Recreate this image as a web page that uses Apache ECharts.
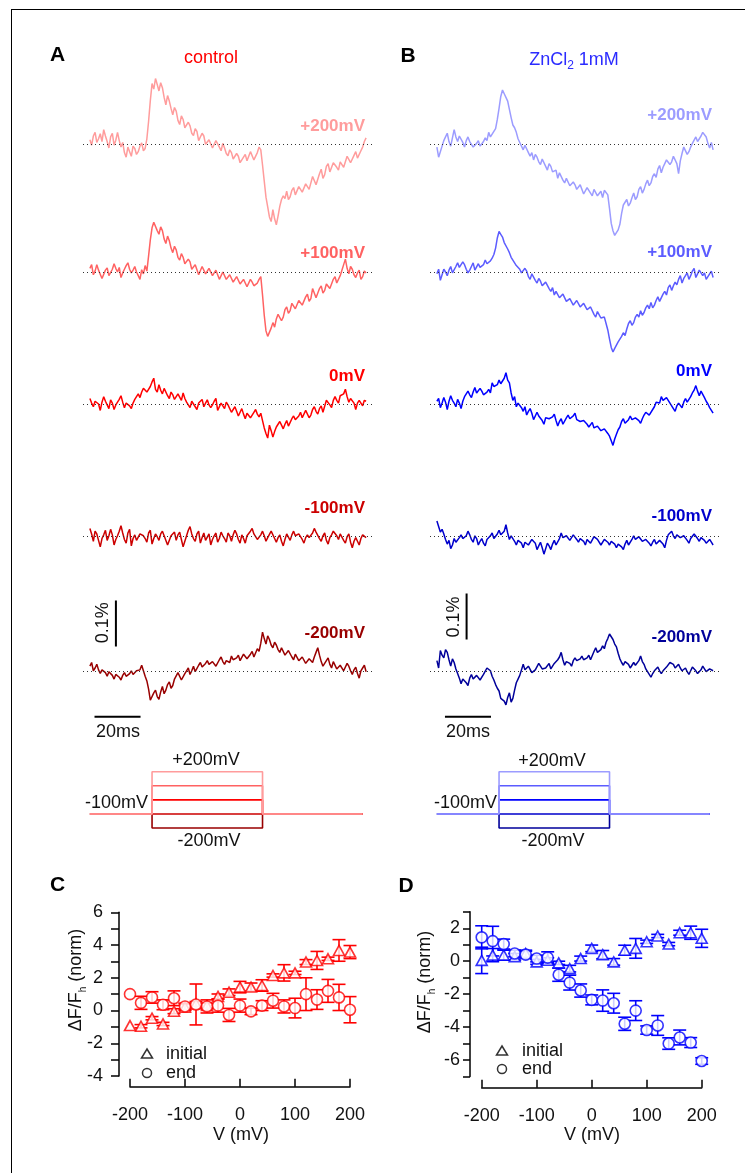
<!DOCTYPE html>
<html><head><meta charset="utf-8">
<script src="https://cdn.jsdelivr.net/npm/echarts@6.0.0/dist/echarts.min.js"></script>
<style>html,body{margin:0;padding:0;background:#fff}#c{width:745px;height:1173px}</style>
</head><body><div id="c"></div>
<script>
// ---------- DATA ----------
// Fluorescence traces, units of 0.01 % dF/F, sampled every SAMPLE_MS ms
const SAMPLE_MS = 0.75;
const TRACE_LABELS = ['+200mV', '+100mV', '0mV', '-100mV', '-200mV'];

const A_P200 = [1.0,-0.2,1.8,2.6,0.4,1.2,2.3,0.6,3.2,1.8,0.6,-0.8,1.6,2.4,-0.2,0.9,2.6,0.8,-0.6,0.4,-1.8,-2.8,-0.6,-1.6,-2.6,-0.4,-0.9,-2.2,-1.6,-0.4,0.3,-1.4,-0.9,1.2,5.0,9.5,13.2,12.0,14.3,13.0,11.6,13.4,12.3,10.2,8.6,10.6,9.4,7.8,6.4,8.0,7.2,5.2,4.3,6.2,5.4,3.6,3.2,4.8,4.0,2.4,1.9,3.4,2.8,0.8,0.6,2.4,1.8,0.0,-0.2,1.0,1.4,-0.8,-0.4,0.8,0.5,-0.6,-1.4,0.2,-0.8,-2.0,-2.5,-1.2,-1.8,-3.2,-3.6,-2.0,-2.6,-4.0,-3.8,-2.8,-2.2,-3.6,-3.2,-1.6,-2.0,-3.4,-3.0,-1.8,-0.6,-1.2,-4.5,-8.0,-11.5,-13.6,-15.8,-16.8,-14.2,-16.2,-17.5,-15.6,-13.5,-12.0,-11.2,-11.8,-10.2,-12.0,-11.4,-10.0,-9.4,-11.0,-10.6,-9.2,-8.8,-10.4,-10.0,-8.6,-8.2,-9.8,-9.4,-7.0,-7.4,-8.8,-8.6,-6.4,-5.4,-7.4,-6.6,-4.8,-4.2,-6.0,-5.8,-4.0,-3.6,-5.0,-5.6,-3.8,-3.4,-5.0,-4.6,-2.6,-2.4,-4.0,-3.8,-2.4,-1.6,-3.0,-2.8,-1.4,-0.6,0.6,1.4];
const A_P100 = [0.8,1.6,-0.6,0.2,1.6,0.4,0.2,-1.4,-1.0,0.4,0.9,-0.8,-0.4,0.6,1.8,0.8,0.0,1.0,-1.2,-0.2,0.6,1.4,2.0,0.6,-0.2,0.4,1.2,0.0,-0.8,-1.6,0.5,-0.4,1.4,0.2,3.5,7.0,9.6,10.8,11.0,9.0,8.2,9.8,9.0,7.2,6.2,7.8,6.8,5.2,4.2,5.6,4.8,3.2,2.6,4.0,3.2,1.8,1.4,2.8,2.2,0.6,0.4,1.6,1.3,-0.6,-0.3,1.2,0.9,-0.4,-0.6,0.8,0.4,-0.8,-1.0,0.4,0.2,-1.6,-1.4,0.0,-0.4,-1.6,-2.0,-0.6,-0.9,-2.2,-2.4,-1.0,-1.4,-2.6,-3.0,-1.6,-1.8,-3.2,-2.8,-1.6,-2.2,-3.0,-3.4,-2.4,-1.6,-1.0,-5.0,-9.4,-12.8,-14.0,-13.6,-12.2,-11.0,-12.0,-10.2,-9.2,-9.0,-10.6,-9.8,-8.2,-7.6,-9.0,-8.4,-6.8,-6.4,-8.0,-7.6,-6.2,-5.8,-7.2,-6.8,-5.4,-4.8,-6.4,-5.8,-3.6,-4.0,-5.6,-5.2,-3.6,-3.0,-4.6,-4.0,-2.6,-2.2,-3.6,-3.2,-1.6,-1.0,-2.4,-2.0,-0.8,0.4,1.6,2.8,0.8,-0.4,1.2,0.6,-0.6,-1.2,-0.2,0.4,-1.6,-1.0,0.2,-0.2];
const A_0 = [1.2,0.2,-0.6,0.6,0.8,0.0,-1.4,0.4,1.6,0.6,-0.2,-1.0,0.9,0.2,-1.2,-0.2,0.4,1.0,1.8,0.4,-0.8,0.2,0.6,-0.4,-1.0,0.2,1.0,1.6,2.2,1.4,2.6,3.4,3.6,2.6,2.4,3.8,4.8,5.6,3.2,2.6,4.2,3.0,2.2,3.4,3.0,1.8,1.2,2.6,2.0,1.0,0.6,2.2,1.8,0.8,2.4,1.2,0.4,-0.2,-0.8,0.6,0.2,-0.6,-1.2,0.2,0.4,1.0,-0.6,0.2,0.9,-0.2,-0.8,-0.2,0.6,1.2,-1.4,-0.6,0.2,-0.4,-1.0,0.4,-0.2,-1.0,-1.8,-1.2,-0.6,-1.6,-2.6,-1.8,-1.0,-2.2,-3.2,-2.0,-1.6,-3.0,-2.4,-1.8,-1.2,-2.2,-2.8,-2.0,-3.6,-5.2,-6.4,-7.4,-4.6,-5.8,-7.2,-6.0,-5.0,-4.4,-3.8,-4.6,-5.4,-4.4,-3.6,-4.8,-4.4,-3.2,-2.6,-3.4,-3.8,-2.6,-1.8,-3.0,-2.8,-1.4,-1.0,-3.0,-2.4,-1.2,-0.6,-1.6,-2.2,-1.0,-0.4,-1.8,-1.4,0.8,0.4,-0.2,-0.8,0.8,1.6,0.8,0.2,1.8,1.4,2.2,3.2,1.6,0.4,1.2,1.6,0.2,-1.2,0.2,0.8,0.4,-0.4,0.8,0.6];
const A_M100 = [1.8,0.6,-1.0,1.2,0.6,-0.8,-2.2,-0.4,0.4,1.4,-0.8,0.2,1.6,0.4,-1.8,-0.6,0.2,1.2,2.4,0.8,-0.6,-1.4,0.8,1.6,-2.0,-0.4,0.4,-0.8,-1.2,0.6,1.0,0.2,-0.4,-1.2,0.8,1.4,-1.6,-0.4,0.6,0.0,-0.8,0.6,1.2,0.2,-0.2,-1.8,-1.4,0.2,0.4,1.0,-0.8,0.4,1.0,-0.6,-2.2,-1.0,0.2,1.4,2.2,0.6,-0.4,-1.0,0.6,1.2,-1.4,-0.2,0.8,-0.8,-0.6,0.6,-1.8,-0.6,0.2,0.8,-1.2,-0.4,1.0,0.2,-0.4,-1.2,0.8,0.2,-1.0,0.4,1.4,0.6,-0.6,-1.4,0.4,-0.4,-1.4,0.2,0.6,1.2,1.8,0.6,0.2,-0.6,-0.8,0.4,1.2,0.2,-1.0,-0.2,0.2,1.2,1.0,-0.4,-1.2,-0.2,0.4,-1.0,-2.0,-0.6,0.6,1.0,-0.8,0.4,1.2,0.2,-0.2,0.6,0.8,-0.6,-1.4,-0.2,0.4,-0.2,-0.6,0.8,1.8,1.0,0.6,-0.4,-1.0,0.2,0.8,-0.8,-1.6,-0.2,0.4,1.2,1.0,0.2,-0.6,0.6,0.2,-0.8,-1.4,0.0,0.6,-1.2,-2.4,-1.0,-0.2,-1.0,-1.8,-0.4,0.4,0.6,-0.2];
const A_M200 = [1.2,2.0,0.2,0.8,1.6,0.4,-0.4,0.4,0.8,-0.2,-1.0,0.0,0.4,-0.8,-1.6,-0.6,-0.4,-1.2,-1.8,-0.8,-0.2,-1.0,-1.4,-0.4,0.2,-0.6,-1.0,0.2,0.6,0.4,1.4,0.2,-1.0,-2.0,-3.8,-6.2,-5.8,-4.6,-4.0,-5.4,-6.0,-4.4,-3.2,-4.8,-4.0,-2.8,-2.2,-3.6,-3.0,-1.6,-1.4,-0.2,-0.6,-1.8,-1.6,-0.4,0.2,0.8,-0.6,0.2,1.2,0.0,0.4,1.4,2.0,1.0,0.8,1.8,2.4,1.6,1.2,2.2,2.6,1.2,1.6,2.6,3.2,2.2,1.6,2.4,2.8,2.0,3.4,2.6,2.2,3.0,3.6,2.4,2.8,3.8,4.0,2.8,3.0,3.8,4.4,3.2,3.4,5.0,4.4,6.2,8.6,7.2,6.0,7.8,7.0,5.8,5.2,6.4,5.8,4.8,4.2,5.2,4.8,3.6,3.4,4.6,4.2,3.2,2.6,3.8,3.4,2.4,2.0,3.2,2.8,1.8,1.4,2.8,2.4,2.0,3.2,4.2,5.2,3.6,2.2,1.2,1.8,2.4,3.0,1.6,0.8,2.2,1.8,0.6,0.4,1.4,1.6,0.2,0.6,1.8,1.2,0.2,-0.6,0.4,1.0,-0.4,-1.4,0.2,0.8,1.4,0.0];

const B_P200 = [-0.6,-2.8,-2.6,-0.4,0.8,1.6,2.4,0.6,-0.4,1.4,3.2,1.6,0.6,1.8,2.0,0.4,-0.6,0.8,1.6,0.6,0.2,-0.6,-1.0,0.2,0.8,-0.4,-0.6,0.6,1.4,0.8,2.6,1.6,1.2,2.8,3.4,5.4,7.8,10.4,11.8,11.0,10.6,9.4,7.6,5.8,4.2,3.6,2.6,1.2,0.4,0.8,-1.2,-0.2,-0.6,-1.8,-2.6,-1.8,-3.4,-2.2,-2.8,-3.8,-4.4,-3.2,-3.6,-4.8,-5.6,-4.2,-4.8,-6.0,-6.4,-5.6,-7.4,-6.2,-6.6,-7.8,-8.4,-7.4,-7.8,-9.0,-9.4,-8.2,-8.8,-9.8,-10.2,-8.8,-9.2,-10.8,-10.4,-9.4,-9.6,-10.6,-11.2,-9.8,-10.0,-11.2,-10.8,-10.2,-11.6,-10.0,-10.4,-11.0,-14.0,-17.2,-18.8,-19.8,-19.4,-18.6,-17.4,-15.0,-13.2,-12.6,-12.0,-13.4,-12.8,-11.6,-10.6,-12.0,-11.4,-9.8,-9.2,-10.6,-9.8,-8.6,-7.8,-9.0,-8.4,-7.0,-6.4,-7.2,-5.4,-4.6,-6.2,-5.0,-4.2,-3.4,-3.0,-4.4,-3.8,-2.6,-2.4,-4.2,-6.4,-3.6,-2.0,-0.6,-1.0,-2.2,-1.6,-0.6,0.2,0.6,1.6,0.6,0.4,1.8,2.6,3.0,1.6,0.2,-0.8,0.4,-1.2];
const B_P100 = [-0.4,0.6,-1.8,-0.6,0.6,0.0,-0.8,0.4,1.2,-0.2,0.2,1.2,2.0,1.0,0.8,2.2,1.6,0.6,-0.2,0.4,1.2,2.0,0.4,0.8,1.8,1.0,0.6,1.6,2.6,1.8,1.4,2.4,3.0,3.8,5.2,7.4,8.8,8.2,7.6,6.4,6.0,5.0,4.2,3.2,3.0,2.0,1.4,1.8,0.6,-0.2,-0.6,0.8,0.2,-1.0,-1.6,-0.4,-0.8,-1.8,-2.4,-1.4,-2.0,-3.0,-3.4,-2.2,-2.6,-3.6,-4.2,-3.4,-5.0,-4.2,-4.4,-5.6,-6.0,-4.8,-5.2,-6.4,-6.8,-5.8,-6.2,-7.2,-7.4,-6.2,-6.6,-7.6,-8.0,-6.8,-7.0,-8.2,-8.6,-7.6,-8.0,-9.2,-9.8,-8.6,-9.0,-10.0,-10.4,-9.8,-11.2,-12.6,-14.6,-16.4,-17.4,-16.6,-16.2,-15.2,-14.8,-14.0,-13.2,-13.8,-12.4,-11.2,-10.6,-11.6,-11.0,-9.8,-9.2,-9.8,-8.4,-9.4,-8.8,-7.8,-7.2,-8.0,-6.6,-7.8,-7.2,-6.2,-5.4,-6.4,-6.0,-4.8,-4.2,-5.0,-3.4,-2.8,-4.0,-3.0,-2.2,-2.8,-1.6,-0.8,-2.4,-1.4,-0.8,-0.2,-1.6,-0.8,0.2,0.8,-1.2,-0.4,0.4,-0.2,-0.8,-0.2,-1.6,-1.0,-0.4,0.2,-1.2];
const B_0 = [0.6,1.2,-0.8,0.2,1.4,0.4,-1.2,0.6,1.8,0.8,0.2,-0.6,1.0,0.2,-1.0,0.6,1.6,2.2,2.8,2.0,1.4,2.6,3.6,2.4,2.2,3.4,2.8,2.0,1.6,2.6,3.2,2.4,4.6,3.8,3.4,4.2,5.2,4.4,4.0,5.6,6.8,5.2,4.6,2.4,0.8,1.6,-0.6,0.2,0.4,-0.8,-1.6,-0.6,-2.4,-1.6,-1.0,-2.0,-3.4,-2.6,-1.8,-2.6,-2.8,-3.6,-4.4,-3.0,-2.6,-3.2,-3.6,-2.8,-2.2,-3.6,-4.8,-3.8,-3.2,-4.4,-4.0,-3.0,-2.4,-3.2,-3.6,-2.6,-2.0,-3.4,-3.0,-3.8,-4.2,-3.6,-3.2,-4.4,-5.0,-4.6,-4.0,-5.2,-5.6,-4.8,-4.6,-5.8,-6.2,-5.4,-5.2,-6.4,-7.0,-8.0,-9.0,-7.6,-6.6,-5.6,-5.0,-3.8,-3.2,-4.2,-4.6,-3.4,-2.6,-3.4,-3.8,-3.0,-2.8,-3.6,-4.2,-3.2,-2.4,-1.8,-1.4,-2.4,-2.2,-1.2,-0.6,0.4,0.8,0.2,1.6,0.8,0.4,1.4,1.2,0.2,-0.4,-1.0,-1.6,-0.4,0.2,0.6,-0.8,0.4,1.2,0.4,0.6,1.6,2.4,3.0,4.0,2.8,1.8,2.8,2.6,1.4,0.6,0.0,-0.8,-1.4,-2.0];
const B_M100 = [3.4,2.2,1.0,1.6,0.6,-0.6,-1.6,-0.8,-2.6,-1.8,-0.4,-1.2,-1.4,-0.2,0.4,-0.4,-0.8,0.2,1.2,0.4,-0.6,-1.2,0.2,-0.4,-1.8,-1.0,-0.4,-1.4,-2.0,-0.6,-0.8,0.2,0.8,-0.4,-0.2,0.6,1.4,0.4,0.2,1.2,2.6,0.8,-0.6,0.2,0.4,-1.0,-1.8,-0.8,-0.6,-1.4,-2.4,-1.2,-0.8,-1.8,-1.6,-0.6,-0.2,-1.4,-2.8,-2.0,-1.2,-2.4,-3.8,-2.6,-1.4,-2.0,-2.8,-1.6,-0.8,-1.8,-1.6,-0.4,0.8,-0.2,-0.6,0.2,0.6,-0.8,-0.4,0.4,0.2,-0.6,-1.2,-0.4,-0.2,-1.0,-1.8,-0.6,-0.4,-1.4,-1.0,0.0,0.4,-0.6,-0.8,-1.8,-1.6,-0.6,-0.4,-1.2,-1.8,-1.0,-0.6,-1.6,-2.4,-1.6,-1.2,-2.2,-2.8,-1.6,-0.8,-1.8,-1.6,-0.6,0.2,-0.6,-0.8,0.0,-0.2,-1.0,-1.4,-0.6,-0.4,-1.4,-2.0,-1.2,-0.6,-1.6,-1.6,-0.8,-0.8,-1.6,-2.4,-0.8,0.4,0.8,1.2,0.2,-0.4,0.4,0.8,-0.2,-0.6,0.2,0.4,-0.8,-1.4,-0.4,-0.2,0.6,0.8,-0.4,-1.0,-0.2,0.2,-0.8,-1.4,-1.0,-0.6,-1.2,-1.8];
const B_M200 = [2.4,0.8,4.6,3.6,3.0,4.8,4.2,2.6,1.2,2.8,2.0,0.6,-0.4,-1.4,-2.6,-1.6,-1.2,-2.4,-3.0,-1.4,-0.6,-1.6,-1.8,-0.8,-0.4,-1.8,-1.6,-0.6,-0.2,0.8,1.2,0.2,-1.0,-1.8,-2.8,-3.6,-4.2,-5.8,-5.4,-6.4,-7.2,-5.6,-4.6,-6.6,-5.8,-4.0,-2.4,-1.6,-0.8,0.4,1.6,0.4,0.4,1.2,1.0,-0.2,-0.4,0.4,0.8,1.8,1.6,0.6,0.2,0.8,1.2,1.8,0.6,1.2,1.8,2.2,2.6,3.2,4.2,2.6,1.4,2.2,2.6,1.8,1.2,2.4,3.0,2.4,2.0,2.8,3.4,2.6,2.2,3.0,3.6,2.6,3.0,4.4,5.2,4.2,4.0,4.8,5.6,5.0,6.4,7.2,8.2,7.6,7.0,6.0,5.4,4.0,2.8,2.0,1.4,2.2,2.6,1.6,0.8,1.4,2.0,1.4,1.0,2.4,3.4,2.2,1.6,0.6,0.4,-0.6,-1.2,-0.4,0.2,0.6,1.0,0.2,-0.4,0.2,0.6,1.0,1.4,2.0,2.4,1.6,0.8,0.6,1.6,0.8,0.2,0.6,0.8,0.0,-0.6,0.2,1.0,0.6,0.2,-0.4,-0.8,0.4,1.2,0.6,0.0,0.2,0.6,0.8,0.2];

const A_TRACES = [A_P200, A_P100, A_0, A_M100, A_M200];
const B_TRACES = [B_P200, B_P100, B_0, B_M100, B_M200];

// Voltage protocol (mV, ms)
const HOLDING_MV = -100;
const STEP_MV = [-200, -100, 0, 100, 200];
const PULSE_ON_MS = 27;
const PULSE_OFF_MS = 75;
const PROTOCOL_END_MS = 118.5;
const SCALE_MS = 20;
const SCALE_UNITS = 10; // 0.1 %

// Summary data (panels C and D)
const VOLTS = [-200,-180,-160,-140,-120,-100,-80,-60,-40,-20,0,20,40,60,80,100,120,140,160,180,200];
const C_INITIAL = [-0.92,-0.96,-0.47,-0.82,-0.04,0.2,0.4,0.3,0.86,1.12,1.43,1.43,1.53,2.14,2.3,2.3,2.96,3.06,3.16,3.67,3.57];
const C_INITIAL_ERR = [0,0.1,0.1,0.1,0.15,0.2,0.15,0.15,0.15,0.2,0.35,0.25,0.35,0.1,0.5,0.1,0.15,0.55,0.1,0.66,0.4];
const C_END = [1.0,0.47,0.8,0.35,0.75,0.25,0.37,0.25,0.3,-0.27,0.3,-0.05,0.3,0.6,0.25,0.15,1.0,0.67,1.2,0.8,0.05];
const C_END_ERR = [0,0.4,0.35,0.3,0.45,0.2,1.25,0.4,0.4,0.4,0.4,0.2,0.3,0.45,0.4,0.6,1.0,0.6,0.7,0.8,0.8];
const D_INITIAL = [0.05,0.37,0.37,0.27,0.47,-0.04,0.06,-0.1,-0.45,0.16,0.78,0.4,-0.04,0.67,0.78,1.18,1.53,1.04,1.73,1.73,1.39];
const D_INITIAL_ERR = [0.8,0.4,0.3,0.2,0.2,0.15,0.15,0.1,0.2,0.15,0.2,0.25,0.2,0.3,0.6,0.1,0.1,0.1,0.15,0.4,0.55];
const D_END = [1.45,1.22,1.04,0.47,0.4,0.16,0.22,-0.82,-1.3,-1.78,-2.35,-2.39,-2.55,-3.8,-3.0,-4.18,-3.9,-5.0,-4.63,-4.94,-6.06];
const D_END_ERR = [0.7,0.9,0.3,0.2,0.2,0.2,0.35,0.4,0.45,0.4,0.3,0.65,0.6,0.4,0.6,0.25,0.6,0.35,0.45,0.3,0.2];

// ---------- STYLE / LAYOUT ----------
const FONT = '"Liberation Sans", Arial, Helvetica, sans-serif';
const A_COLORS = ['#ff9c9c', '#ff6262', '#ff0000', '#cc0000', '#990000'];
const B_COLORS = ['#9c9cff', '#5c5cff', '#0000ff', '#0000cc', '#00009a'];
const BASELINES = [144.3, 272, 404, 536.7, 671.7];
const PANELS = [
  {left: 83, traces: A_TRACES, colors: A_COLORS, labelX: 365, labelY: [126, 253, 376, 508, 633],
   scaleT: 11.3, scaleY0: 5.5, hbarT: 2, hbarY: -9.8},
  {left: 430, traces: B_TRACES, colors: B_COLORS, labelX: 712, labelY: [115, 252, 371, 516, 637],
   scaleT: 12.9, scaleY0: 7.0, hbarT: 3.5, hbarY: -9.8}
];

const grids = [], xAxes = [], yAxes = [], series = [], graphics = [];
function addGrid(g, x, y) {
  grids.push(g);
  const i = grids.length - 1;
  x.gridIndex = i; y.gridIndex = i;
  xAxes.push(x); yAxes.push(y);
  return i;
}
function txt(x, y, text, o) {
  o = o || {};
  graphics.push({
    type: 'text', x: x, y: y, rotation: o.rot || 0, z: 100,
    style: {
      text: text, fill: o.fill || '#111',
      font: (o.weight || 'normal') + ' ' + (o.size || 18) + 'px ' + FONT,
      align: o.align || 'center', verticalAlign: 'middle', rich: o.rich
    }
  });
}

PANELS.forEach(function (P) {
  P.traces.forEach(function (vals, k) {
    const gi = addGrid(
      {left: P.left, top: BASELINES[k] - 138, width: 290, height: 276},
      {type: 'value', min: -3, max: 123, show: false},
      {type: 'value', min: -30, max: 30, show: false});
    series.push({
      type: 'line', xAxisIndex: gi, yAxisIndex: gi, showSymbol: false, clip: false,
      data: vals.map(function (v, i) { return [i * SAMPLE_MS, v]; }),
      lineStyle: {color: P.colors[k], width: 1.5}, itemStyle: {color: P.colors[k]},
      markLine: {silent: true, symbol: 'none', label: {show: false},
        lineStyle: {color: '#333', width: 1, type: [1, 3]}, data: [{yAxis: 0}]}
    });
    txt(P.labelX, P.labelY[k], TRACE_LABELS[k], {align: 'right', weight: 'bold', size: 17, fill: P.colors[k]});
    if (k === 4) {
      series.push({type: 'line', xAxisIndex: gi, yAxisIndex: gi, showSymbol: false, clip: false,
        data: [[P.scaleT, P.scaleY0], [P.scaleT, P.scaleY0 + SCALE_UNITS]],
        lineStyle: {color: '#000', width: 2}});
      series.push({type: 'line', xAxisIndex: gi, yAxisIndex: gi, showSymbol: false, clip: false,
        data: [[P.hbarT, P.hbarY], [P.hbarT + SCALE_MS, P.hbarY]],
        lineStyle: {color: '#000', width: 2}});
    }
  });
  // protocol
  const pg = addGrid(
    {left: P.left, top: 764.7, width: 290, height: 70.4},
    {type: 'value', min: -3, max: 123, show: false},
    {type: 'value', min: -250, max: 250, show: false});
  STEP_MV.forEach(function (v) {
    const colorIdx = [200, 100, 0, -100, -200].indexOf(v);
    series.push({type: 'line', xAxisIndex: pg, yAxisIndex: pg, showSymbol: false, clip: false,
      data: [[0, HOLDING_MV], [PULSE_ON_MS, HOLDING_MV], [PULSE_ON_MS, v], [PULSE_OFF_MS, v],
             [PULSE_OFF_MS, HOLDING_MV], [PROTOCOL_END_MS, HOLDING_MV]],
      lineStyle: {color: P.colors[colorIdx], width: 1.6}});
  });
});

// Panels C and D
function errSeries(gi, xs, ys, es, color) {
  return {
    type: 'custom', xAxisIndex: gi, yAxisIndex: gi, z: 2,
    data: xs.map(function (x, i) { return [x, ys[i], es[i]]; }),
    renderItem: function (params, api) {
      const x = api.value(0), y = api.value(1), e = api.value(2);
      if (!e) return null;
      const t = api.coord([x, y + e]), b = api.coord([x, y - e]);
      const hw = 6.5, st = {stroke: color, lineWidth: 1.6};
      return {type: 'group', children: [
        {type: 'line', shape: {x1: t[0], y1: t[1], x2: b[0], y2: b[1]}, style: st},
        {type: 'line', shape: {x1: t[0] - hw, y1: t[1], x2: t[0] + hw, y2: t[1]}, style: st},
        {type: 'line', shape: {x1: b[0] - hw, y1: b[1], x2: b[0] + hw, y2: b[1]}, style: st}
      ]};
    }
  };
}
function markerSeries(gi, xs, ys, sym, color) {
  return {
    type: 'scatter', xAxisIndex: gi, yAxisIndex: gi, z: 3, symbol: sym,
    symbolSize: sym === 'triangle' ? [11, 10] : 11,
    data: xs.map(function (x, i) { return [x, ys[i]]; }),
    itemStyle: {color: '#fff', borderColor: color, borderWidth: 1.6}
  };
}
function summary(cfg) {
  const gi = addGrid(
    {left: cfg.left, top: cfg.top, width: 220, height: cfg.height},
    {type: 'value', min: -200, max: 200, interval: 100, offset: cfg.xOffset,
      axisLine: {onZero: false, lineStyle: {color: '#000', width: 1.5}},
      axisTick: {inside: true, length: 8, lineStyle: {color: '#000', width: 1.5}},
      axisLabel: {margin: 19, color: '#111', fontSize: 18, fontFamily: FONT},
      splitLine: {show: false}},
    {type: 'value', min: cfg.ymin, max: cfg.ymax, interval: 1, offset: cfg.yOffset,
      axisLine: {show: true, onZero: false, lineStyle: {color: '#000', width: 1.5}},
      axisTick: {show: true, length: cfg.tickLen, lineStyle: {color: '#000', width: 1.5}},
      axisLabel: {margin: cfg.labelMargin, color: '#111', fontSize: 18, fontFamily: FONT,
        formatter: function (v) { return v % 2 === 0 ? String(v) : ''; }},
      splitLine: {show: false}});
  series.push(errSeries(gi, VOLTS, cfg.init, cfg.initErr, cfg.color));
  series.push(errSeries(gi, VOLTS, cfg.end, cfg.endErr, cfg.color));
  series.push(markerSeries(gi, VOLTS, cfg.init, 'triangle', cfg.color));
  series.push(markerSeries(gi, VOLTS, cfg.end, 'circle', cfg.color));
}
summary({left: 130, top: 912.3, height: 163.7, xOffset: 10.7, yOffset: 11, ymin: -4, ymax: 6,
  tickLen: 8, labelMargin: 16, color: '#ff0000',
  init: C_INITIAL, initErr: C_INITIAL_ERR, end: C_END, endErr: C_END_ERR});
summary({left: 481.7, top: 911.8, height: 164.7, xOffset: 11.2, yOffset: 11.7, ymin: -7, ymax: 3,
  tickLen: 7, labelMargin: 10, color: '#0000ff',
  init: D_INITIAL, initErr: D_INITIAL_ERR, end: D_END, endErr: D_END_ERR});

// ---------- TEXT & DECORATION ----------
txt(57.5, 55.5, 'A', {weight: 'bold', size: 21, fill: '#000'});
txt(408, 56, 'B', {weight: 'bold', size: 21, fill: '#000'});
txt(57.5, 885, 'C', {weight: 'bold', size: 21, fill: '#000'});
txt(406, 886, 'D', {weight: 'bold', size: 21, fill: '#000'});
txt(211, 58, 'control', {fill: '#ff0000', size: 18});
txt(574, 58, '{a|ZnCl}{s|2}{a| 1mM}', {fill: '#2b2bff', rich: {
  a: {fontSize: 18, fontFamily: FONT, fill: '#2b2bff', lineHeight: 22, verticalAlign: 'bottom'},
  s: {fontSize: 12, fontFamily: FONT, fill: '#2b2bff', lineHeight: 22, verticalAlign: 'bottom', padding: [0, 0, -3, 0]}}});

// scale bar labels
txt(103, 622.7, '0.1%', {rot: Math.PI / 2});
txt(454, 617, '0.1%', {rot: Math.PI / 2});
txt(118, 731.7, '20ms');
txt(468, 731.7, '20ms');
// protocol labels
txt(206, 760.5, '+200mV');
txt(148, 803, '-100mV', {align: 'right'});
txt(209, 841, '-200mV');
txt(552, 761, '+200mV');
txt(497, 803, '-100mV', {align: 'right'});
txt(553, 841, '-200mV');

// axis titles
const yRich = {
  a: {fontSize: 18, fontFamily: FONT, fill: '#111', lineHeight: 22, verticalAlign: 'bottom'},
  s: {fontSize: 10, fontFamily: FONT, fill: '#111', lineHeight: 22, verticalAlign: 'bottom', padding: [0, 0, -3, 0]}
};
txt(74, 980, '{a|ΔF/F}{s|h}{a| (norm)}', {rot: Math.PI / 2, rich: yRich});
txt(423, 982, '{a|ΔF/F}{s|h}{a| (norm)}', {rot: Math.PI / 2, rich: yRich});
txt(241, 1135, 'V (mV)');
txt(592, 1135, 'V (mV)');

// legends
[[147, 1054, 1073, 166], [502, 1051, 1069, 522]].forEach(function (L) {
  graphics.push({type: 'polygon', z: 100, shape: {points: [[L[0], L[1] - 5], [L[0] + 5.5, L[1] + 4], [L[0] - 5.5, L[1] + 4]]},
    style: {fill: 'none', stroke: '#333', lineWidth: 1.5}});
  graphics.push({type: 'circle', z: 100, shape: {cx: L[0], cy: L[2], r: 4.5},
    style: {fill: 'none', stroke: '#333', lineWidth: 1.5}});
  txt(L[3], L[1], 'initial', {align: 'left'});
  txt(L[3], L[2], 'end', {align: 'left'});
});

// figure frame (top & left)
graphics.push({type: 'line', z: 100, shape: {x1: 11, y1: 9.5, x2: 745, y2: 9.5}, style: {stroke: '#000', lineWidth: 1}});
graphics.push({type: 'line', z: 100, shape: {x1: 11.5, y1: 9, x2: 11.5, y2: 1173}, style: {stroke: '#000', lineWidth: 1}});

const chart = echarts.init(document.getElementById('c'), null, {renderer: 'canvas', width: 745, height: 1173});
chart.setOption({
  backgroundColor: '#fff', animation: false,
  grid: grids, xAxis: xAxes, yAxis: yAxes, series: series, graphic: graphics
});
</script></body></html>
